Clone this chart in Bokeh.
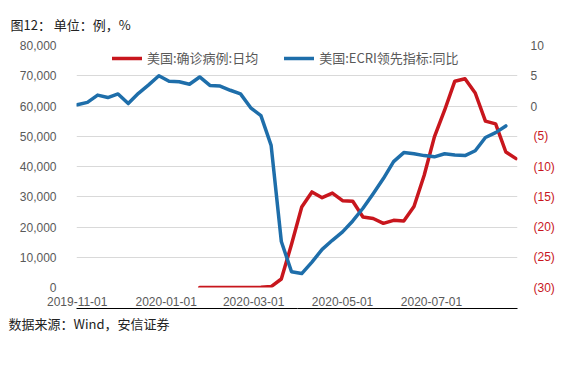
import datetime as dt
from bokeh.plotting import figure
from bokeh.models import (Range1d, LinearAxis, DatetimeAxis, FixedTicker, NumeralTickFormatter,
                          DatetimeTickFormatter, Legend, LegendItem, Title,
                          CustomJSTickFormatter)
from bokeh.embed import file_html
from bokeh.resources import INLINE

# ---------------- data ----------------
ecri_start = dt.date(2019, 11, 1)
ecri_values = [0.2, 0.6, 1.8, 1.4, 2.0, 0.4, 2.1, 3.5, 5.0, 4.1, 4.0, 3.6, 4.8, 3.4,
               3.3, 2.6, 2.0, -0.3, -1.6, -6.5, -22.4, -27.4, -27.7, -25.8, -23.7,
               -22.2, -20.8, -19.0, -16.9, -14.5, -12.0, -9.2, -7.7, -7.9, -8.2,
               -8.4, -7.9, -8.1, -8.2, -7.4, -5.2, -4.4, -3.3]
cases_start = dt.date(2020, 1, 24)
cases_values = [0, 0, 0, 0, 0, 10, 50, 300, 2800, 14300, 26600, 31600, 29700, 31200,
                28700, 28500, 23300, 22800, 21200, 22200, 22000, 26800, 37100, 49800,
                58600, 68200, 69000, 64300, 55000, 54100, 44800, 42600]
ecri_dates = [ecri_start + dt.timedelta(days=7 * i) for i in range(len(ecri_values))]
cases_dates = [cases_start + dt.timedelta(days=7 * i) for i in range(len(cases_values))]

x_tick_dates = [dt.date(2019, 11, 1), dt.date(2020, 1, 1), dt.date(2020, 3, 1),
                dt.date(2020, 5, 1), dt.date(2020, 7, 1)]
left_ticks = list(range(0, 80001, 10000))
right_neg_ticks = [-30, -25, -20, -15, -10, -5]
right_pos_ticks = [0, 5, 10]

series_names = ["美国:确诊病例:日均", "美国:ECRI领先指标:同比"]
title_text = "图12：  单位：例，%"
source_text = "数据来源：Wind，安信证券"

RED = "#c8161d"
BLUE = "#1e6eaa"
GRAY = "#595959"
GRID = "#d9d9d9"
TICK_FONT = "Liberation Sans"
CJK = "Noto Sans CJK SC"


def ms(d):
    return dt.datetime(d.year, d.month, d.day).timestamp() * 1000.0


W, H = 575, 391
ML, MR, MT = 76, 58, 44
MB = H - 286
FW, FH = W - ML - MR, 286 - MT

x0 = ms(dt.date(2019, 10, 31)) + 12 * 3600e3
x1 = ms(dt.date(2020, 8, 29))

p = figure(frame_width=FW, frame_height=FH, x_axis_type="datetime", output_backend="svg",
           toolbar_location=None, min_border_left=ML, min_border_right=MR,
           min_border_top=MT, min_border_bottom=MB,
           x_range=Range1d(x0, x1), y_range=Range1d(0, 80000))
p.outline_line_color = None
p.background_fill_color = "white"
p.extra_y_ranges = {"right": Range1d(-30, 10)}

# title
p.title.text = title_text
p.title.align = "left"
p.title.offset = -66
p.title.standoff = 24
p.title.text_font = CJK
p.title.text_font_size = "13px"
p.title.text_font_style = "normal"
p.title.text_color = "#222222"

# grid
p.xgrid.grid_line_color = None
p.ygrid.grid_line_color = GRID
p.ygrid.grid_line_width = 1
p.ygrid.ticker = FixedTicker(ticks=left_ticks)

# left axis
ya = p.yaxis[0]
ya.ticker = FixedTicker(ticks=left_ticks)
ya.formatter = NumeralTickFormatter(format="0,0")
ya.axis_line_color = None
ya.major_tick_line_color = None
ya.minor_tick_line_color = None
ya.major_label_text_font = TICK_FONT
ya.major_label_text_font_size = "12px"
ya.major_label_text_color = GRAY
ya.major_label_standoff = 14

# x axis
xa = p.xaxis[0]
xa.ticker = FixedTicker(ticks=[ms(d) for d in x_tick_dates])
xa.formatter = DatetimeTickFormatter(days="%Y-%m-%d", months="%Y-%m-%d", years="%Y-%m-%d")
xa.axis_line_color = None
xa.major_tick_line_color = None
xa.minor_tick_line_color = None
xa.major_label_text_font = TICK_FONT
xa.major_label_text_font_size = "12px"
xa.major_label_text_color = GRAY
xa.major_label_standoff = 3


def style_right(ax, color, standoff):
    ax.axis_line_color = None
    ax.major_tick_line_color = None
    ax.minor_tick_line_color = None
    ax.major_tick_out = 0
    ax.minor_tick_out = 0
    ax.major_label_text_font = TICK_FONT
    ax.major_label_text_font_size = "12px"
    ax.major_label_text_color = color
    ax.major_label_standoff = standoff


# right axes: non-negative in gray, negative in red parentheses
ra_pos = LinearAxis(y_range_name="right", ticker=FixedTicker(ticks=right_pos_ticks))
style_right(ra_pos, GRAY, 13)
p.add_layout(ra_pos, "right")
ra_neg = LinearAxis(y_range_name="right", ticker=FixedTicker(ticks=right_neg_ticks),
                    formatter=CustomJSTickFormatter(code="return '(' + Math.abs(tick) + ')';"))
style_right(ra_neg, RED, -13)
p.add_layout(ra_neg, "right")

# series
r_cases = p.line([ms(d) for d in cases_dates], cases_values, line_color=RED,
                 line_width=3.5, line_join="round", line_cap="round")
r_ecri = p.line([ms(d) for d in ecri_dates], ecri_values, line_color=BLUE,
                line_width=3.5, line_join="round", line_cap="round", y_range_name="right")

# legend kept inside the frame, in the empty band along the top
legend = Legend(items=[LegendItem(label=series_names[0], renderers=[r_cases]),
                       LegendItem(label=series_names[1], renderers=[r_ecri])],
                orientation="horizontal", location=(36, FH - 22),
                label_text_font=CJK, label_text_font_size="13px", label_text_color=GRAY,
                glyph_width=30, glyph_height=14, label_standoff=5, spacing=26,
                padding=0, margin=0, border_line_color=None, background_fill_alpha=0)
p.add_layout(legend, "center")


def blank_axis(bnds, standoff, line_color):
    ax = DatetimeAxis(ticker=FixedTicker(ticks=[x0 + 0.5 * (x1 - x0)]), bounds=bnds,
                      formatter=CustomJSTickFormatter(code="return '';"))
    ax.axis_line_color = line_color
    ax.axis_line_width = 1.2
    ax.major_tick_line_color = None
    ax.minor_tick_line_color = None
    ax.major_tick_out = 0
    ax.minor_tick_out = 0
    ax.major_label_standoff = standoff
    ax.major_label_text_font_size = "1px"
    return ax


# spacer below the dates, then a separator rule reaching the canvas edges
p.add_layout(blank_axis("auto", 56, None), "below")
px_per_ms = FW / (x1 - x0)
left_edge = x0 - ML / px_per_ms
right_edge = x1 + MR / px_per_ms
mid = x0 + 0.5 * (x1 - x0)
for bnds in [(left_edge, mid), (mid, right_edge)]:
    p.add_layout(blank_axis(bnds, 0, "black"), "below")

src = Title(text=source_text, align="left", offset=-68, standoff=6,
            text_font=CJK, text_font_size="13px", text_font_style="normal",
            text_color="#222222")
p.add_layout(src, "below")

open("out.html", "w").write(file_html(p, INLINE))
